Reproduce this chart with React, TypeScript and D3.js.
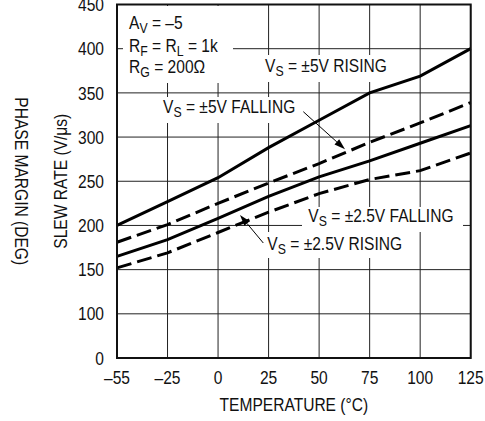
import React from "react";
import * as d3 from "d3";

const temps = [-55, -25, 0, 25, 50, 75, 100, 125];
const rising5 = [200, 227, 254, 288, 319, 350, 369, 400];
const falling5 = [181, 201, 225, 248, 270, 294, 316, 339];
const rising25 = [165, 184, 208, 233, 255, 273, 293, 313];
const falling25 = [152, 169, 192, 215, 236, 252, 262, 282];
const xTicks = [-55, -25, 0, 25, 50, 75, 100, 125];
const yTicks = [0, 100, 150, 200, 250, 300, 350, 400, 450];

const W = 485, H = 421;
const L = 117, R = 470.7, T = 4.5, B = 358;
const FONT = "'Liberation Sans', Arial, sans-serif";
const FS = 19;
const SX = 0.82;

function NText(props: { x: number; y: number; rot?: number; anchor?: string; dy?: string; children: React.ReactNode }) {
  const { x, y, rot = 0, anchor = "start", dy, children } = props;
  return (
    <g transform={`translate(${x},${y}) rotate(${rot}) scale(${SX},1)`}>
      <text x={0} y={0} dy={dy} textAnchor={anchor as any} fill="#111">{children}</text>
    </g>
  );
}

export default function App() {
  const cw = (R - L) / 7;
  const x = d3.scaleLinear().domain([-55, -25, 125]).range([L, L + cw, R]);
  const ch = (B - T) / 8;
  const y = d3.scaleLinear().domain([0, 100, 450]).range([B, B - ch, T]);
  const line = d3.line<number>().x((_, i) => x(temps[i])).y((d) => y(d));

  const series = [
    { v: rising5, dash: null },
    { v: falling5, dash: "15 6" },
    { v: rising25, dash: null },
    { v: falling25, dash: "15 6" },
  ];

  const sub = (main: string, s: string, rest: string) => (
    <>
      {main}
      <tspan fontSize={15} dy={4}>{s}</tspan>
      <tspan dy={-4}>{rest}</tspan>
    </>
  );

  const boxes = [
    [123, 6, 233, 83],
    [262, 55, 395, 82],
    [158, 97, 305, 123],
    [302, 207, 463, 232],
    [262, 232, 410, 258],
  ];

  const arrow = (x1: number, y1: number, x2: number, y2: number) => {
    const a = Math.atan2(y2 - y1, x2 - x1);
    const len = 11, wd = 3.5;
    const bx = x2 - len * Math.cos(a), by = y2 - len * Math.sin(a);
    const px = -Math.sin(a) * wd, py = Math.cos(a) * wd;
    return (
      <g>
        <line x1={x1} y1={y1} x2={bx} y2={by} stroke="#000" strokeWidth={1} />
        <path d={`M${x2},${y2}L${bx + px},${by + py}L${bx - px},${by - py}Z`} fill="#000" />
      </g>
    );
  };

  return (
    <svg width={W} height={H} style={{ position: "absolute", left: 0, top: 0 }} fontFamily={FONT} fontSize={FS}>
      <rect width={W} height={H} fill="#fff" />
      {xTicks.map((t) => (
        <line key={"gx" + t} x1={x(t)} x2={x(t)} y1={T} y2={B} stroke="#222" strokeWidth={1} />
      ))}
      {yTicks.map((t) => (
        <line key={"gy" + t} x1={L} x2={R} y1={y(t)} y2={y(t)} stroke="#222" strokeWidth={1} />
      ))}
      {boxes.map((b, i) => (
        <rect key={"b" + i} x={b[0]} y={b[1]} width={b[2] - b[0]} height={b[3] - b[1]} fill="#fff" />
      ))}
      {series.map((s, i) => (
        <path key={"s" + i} d={line(s.v) || ""} fill="none" stroke="#000" strokeWidth={3}
          strokeDasharray={s.dash || undefined} />
      ))}
      <rect x={L} y={T} width={R - L} height={B - T} fill="none" stroke="#111" strokeWidth={2} />
      {xTicks.map((t) => (
        <NText key={"tx" + t} x={x(t)} y={383.5} anchor="middle">
          {t < 0 ? "\u2013" + Math.abs(t) : t}
        </NText>
      ))}
      {yTicks.map((t) => (
        <NText key={"ty" + t} x={104} y={y(t)} dy="0.35em" anchor="end">{t}</NText>
      ))}
      <NText x={(L + R) / 2} y={410.5} anchor="middle">TEMPERATURE (°C)</NText>
      <NText x={67} y={(T + B) / 2} rot={-90} anchor="middle">SLEW RATE (V/μs)</NText>
      <NText x={15} y={(T + B) / 2} rot={90} anchor="middle">PHASE MARGIN (DEG)</NText>

      <NText x={129} y={29.3}>{sub("A", "V", " = \u20135")}</NText>
      <NText x={129} y={52.3}>
        R<tspan fontSize={15} dy={4}>F</tspan><tspan dy={-4}> = R</tspan><tspan fontSize={15} dy={4}>L</tspan><tspan dy={-4}> = 1k</tspan>
      </NText>
      <NText x={129} y={72.7}>{sub("R", "G", " = 200Ω")}</NText>
      <NText x={265} y={71.7}>{sub("V", "S", " = ±5V RISING")}</NText>
      <NText x={163} y={113.3}>{sub("V", "S", " = ±5V FALLING")}</NText>
      <NText x={308.3} y={221.7}>{sub("V", "S", " = ±2.5V FALLING")}</NText>
      <NText x={267.3} y={250}>{sub("V", "S", " = ±2.5V RISING")}</NText>
      {arrow(303.3, 111.7, 345, 149.3)}
      {arrow(263.3, 243, 240, 215)}
    </svg>
  );
}
